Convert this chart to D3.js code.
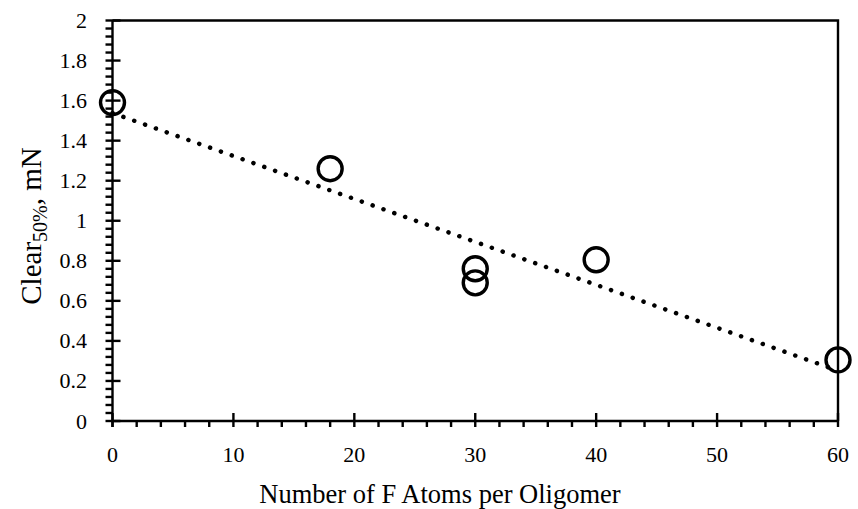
<!DOCTYPE html>
<html>
<head>
<meta charset="utf-8">
<script src="https://cdn.jsdelivr.net/npm/d3@7"></script>
<style>
  html, body { margin: 0; padding: 0; background: #fff; }
  svg { display: block; }
  text { font-family: "Liberation Serif", "Times New Roman", serif; fill: #000; }
</style>
</head>
<body>
<svg id="chart" width="858" height="509"></svg>
<script>
'use strict';

// ---- Data -------------------------------------------------------------------

const fAtoms   = [0, 18, 30, 30, 40, 60];
const clear50  = [1.59, 1.26, 0.76, 0.69, 0.805, 0.305];

const xTicks = [0, 10, 20, 30, 40, 50, 60];
const yTicks = [0, 0.2, 0.4, 0.6, 0.8, 1, 1.2, 1.4, 1.6, 1.8, 2];

// ---- Layout -----------------------------------------------------------------

const plot = { left: 112.5, right: 838, top: 20.5, bottom: 421 };

const svg = d3.select('#chart');

const x = d3.scaleLinear().domain([0, 60]).range([plot.left, plot.right]);
const y = d3.scaleLinear().domain([0, 2]).range([plot.bottom, plot.top]);

// ---- Frame (top + right border) ---------------------------------------------

svg.append('path')
  .attr('d', `M${plot.left},${plot.top}H${plot.right}V${plot.bottom}`)
  .attr('fill', 'none')
  .attr('stroke', '#000')
  .attr('stroke-width', 2.4);

// ---- Axes -------------------------------------------------------------------

// minor ticks, outside only
const xMinor = d3.range(0, 61, 2).filter(v => v % 10 !== 0);
const yMinor = d3.range(0, 51, 1).map(v => v * 0.04).filter((v, i) => i % 5 !== 0);

const axisG = svg.append('g').attr('stroke', '#000').attr('stroke-width', 2.4);

axisG.selectAll('.xminor').data(xMinor).join('line')
  .attr('x1', d => x(d)).attr('x2', d => x(d))
  .attr('y1', plot.bottom).attr('y2', plot.bottom + 6);

axisG.selectAll('.xmajor').data(xTicks).join('line')
  .attr('x1', d => x(d)).attr('x2', d => x(d))
  .attr('y1', plot.bottom - 8).attr('y2', plot.bottom + 6);

axisG.selectAll('.yminor').data(yMinor).join('line')
  .attr('y1', d => y(d)).attr('y2', d => y(d))
  .attr('x1', plot.left - 7).attr('x2', plot.left);

axisG.selectAll('.ymajor').data(yTicks).join('line')
  .attr('y1', d => y(d)).attr('y2', d => y(d))
  .attr('x1', plot.left - 7).attr('x2', plot.left + 8);

// axis lines
axisG.append('line')
  .attr('x1', plot.left).attr('x2', plot.right)
  .attr('y1', plot.bottom).attr('y2', plot.bottom);
axisG.append('line')
  .attr('x1', plot.left).attr('x2', plot.left)
  .attr('y1', plot.top).attr('y2', plot.bottom + 6);

// tick labels
svg.selectAll('.xlab').data(xTicks).join('text')
  .attr('x', d => x(d))
  .attr('y', 462)
  .attr('text-anchor', 'middle')
  .attr('font-size', 22)
  .text(d => d);

svg.selectAll('.ylab').data(yTicks).join('text')
  .attr('x', 87)
  .attr('y', d => y(d) + 7.5)
  .attr('text-anchor', 'end')
  .attr('font-size', 22)
  .text(d => d3.format('~g')(d));

// ---- Trendline (least squares fit of the points) ----------------------------

const mx = d3.mean(fAtoms), my = d3.mean(clear50);
const slope = d3.sum(fAtoms, (v, i) => (v - mx) * (clear50[i] - my)) /
              d3.sum(fAtoms, v => (v - mx) ** 2);
const icpt = my - slope * mx;

svg.append('line')
  .attr('x1', x(0)).attr('y1', y(icpt))
  .attr('x2', x(60)).attr('y2', y(icpt + slope * 60))
  .attr('stroke', '#000')
  .attr('stroke-width', 4.5)
  .attr('stroke-linecap', 'round')
  .attr('stroke-dasharray', '0.1 11.4');

// ---- Points -----------------------------------------------------------------

svg.selectAll('.pt').data(fAtoms).join('circle')
  .attr('cx', d => x(d))
  .attr('cy', (d, i) => y(clear50[i]))
  .attr('r', 12)
  .attr('fill', 'none')
  .attr('stroke', '#000')
  .attr('stroke-width', 3.4);

// ---- Axis titles ------------------------------------------------------------

svg.append('text')
  .attr('x', 440)
  .attr('y', 503)
  .attr('text-anchor', 'middle')
  .attr('font-size', 26.5)
  .text('Number of F Atoms per Oligomer');

const yt = svg.append('text')
  .attr('transform', 'translate(41,226) rotate(-90)')
  .attr('text-anchor', 'middle')
  .attr('font-size', 29);
yt.append('tspan').text('Clear');
yt.append('tspan').attr('font-size', 20).attr('dy', 6).text('50%');
yt.append('tspan').attr('dy', -6).text(', mN');
</script>
</body>
</html>
